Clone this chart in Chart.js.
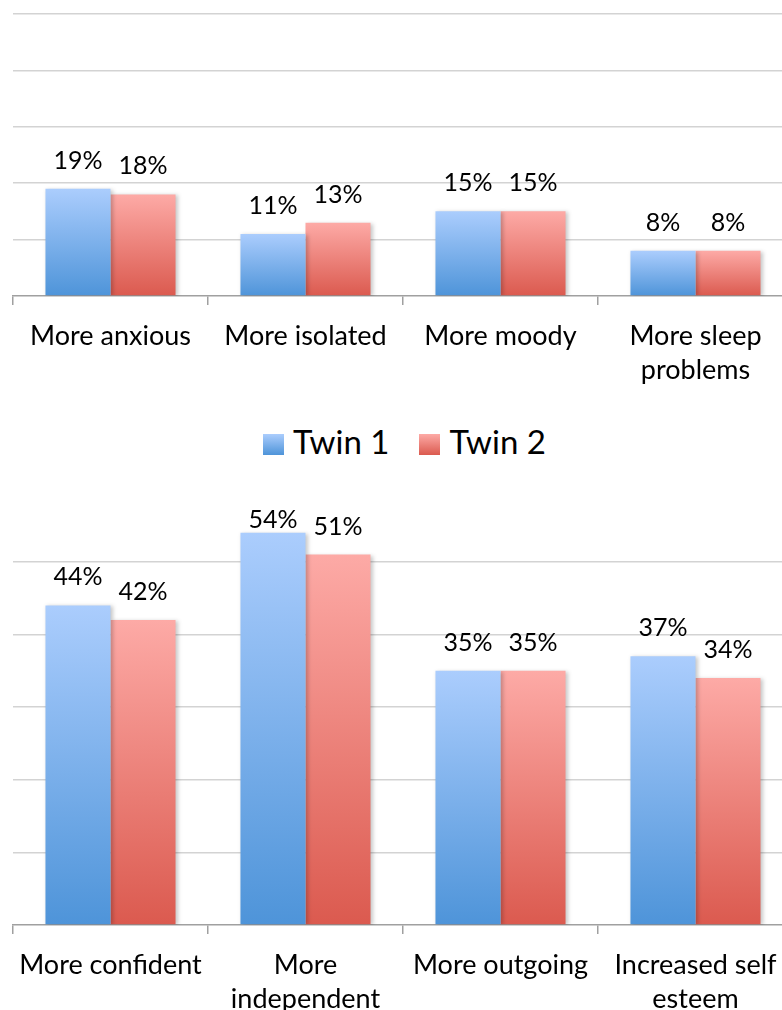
<!DOCTYPE html>
<html>
<head>
<meta charset="utf-8">
<script src="https://cdn.jsdelivr.net/npm/chart.js@4.4.1/dist/chart.umd.min.js"></script>
<style>
  html, body { margin: 0; padding: 0; background: #fff; overflow: hidden; }
  body { width: 782px; height: 1010px; position: relative; font-family: Lato, "Liberation Sans", sans-serif; }
  .box { position: absolute; left: 0; width: 800px; }
  #top { top: 0; height: 401px; }
  #bottom { top: 490px; height: 540px; }
  #legend { position: absolute; top: 421px; left: 263px; font-size: 33px; color: #000; white-space: nowrap; }
  #legend span.sw { display: inline-block; width: 21px; height: 21px; vertical-align: -1px; margin-right: 9px; }
  #legend span.item { margin-right: 30px; }
</style>
</head>
<body>
<div class="box" id="top"><canvas id="c1"></canvas></div>
<div id="legend"></div>
<div class="box" id="bottom"><canvas id="c2"></canvas></div>
<script>
"use strict";

const seriesNames = ['Twin 1', 'Twin 2'];

const negLabels = ['More anxious', 'More isolated', 'More moody', ['More sleep', 'problems']];
const negTwin1 = [19, 11, 15, 8];
const negTwin2 = [18, 13, 15, 8];

const posLabels = ['More confident', ['More', 'independent'], 'More outgoing', ['Increased self', 'esteem']];
const posTwin1 = [44, 54, 35, 37];
const posTwin2 = [42, 51, 35, 34];

const blue = ['#abcdfd', '#4e94d9'];
const red = ['#fdaaa6', '#db5a4f'];
const FONT = 'Lato, "Liberation Sans", sans-serif';

function barGradient( colors ) {
  return ( ctx ) => {
    const chart = ctx.chart;
    const y = chart.scales && chart.scales.y;
    if ( !y || ctx.type !== 'data' ) return colors[1];
    const y0 = y.getPixelForValue( 0 );
    const y1 = y.getPixelForValue( ctx.raw );
    if ( !isFinite( y0 ) || !isFinite( y1 ) || y0 === y1 ) return colors[1];
    const g = chart.ctx.createLinearGradient( 0, y1, 0, y0 );
    g.addColorStop( 0, colors[0] );
    g.addColorStop( 1, colors[1] );
    return g;
  };
}

// value labels over each bar, pushed down when they would leave the plot
const valueLabels = {
  id: 'valueLabels',
  beforeDatasetDraw( chart ) {
    const c = chart.ctx;
    c.save();
    c.shadowColor = 'rgba(0,0,0,0.22)';
    c.shadowBlur = 4;
    c.shadowOffsetX = 2;
    c.shadowOffsetY = 1;
  },
  afterDatasetDraw( chart ) {
    chart.ctx.restore();
  },
  afterDatasetsDraw( chart ) {
    const c = chart.ctx;
    c.save();
    c.font = '25px ' + FONT;
    c.fillStyle = '#000';
    c.textAlign = 'center';
    c.textBaseline = 'alphabetic';
    chart.data.datasets.forEach( ( ds, i ) => {
      chart.getDatasetMeta( i ).data.forEach( ( bar, j ) => {
        const y = Math.max( bar.y - 20, chart.chartArea.top + 17 );
        c.fillText( ds.data[j] + '%', bar.x, y );
      } );
    } );
    c.restore();
  }
};

function config( labels, d1, d2, max, padTop ) {
  return {
    type: 'bar',
    data: {
      labels: labels,
      datasets: [
        { label: seriesNames[0], data: d1, backgroundColor: barGradient( blue ) },
        { label: seriesNames[1], data: d2, backgroundColor: barGradient( red ) },
      ],
    },
    options: {
      maintainAspectRatio: false,
      animation: false,
      layout: { padding: { top: padTop, left: 13, right: 7, bottom: 0 } },
      plugins: { legend: { display: false }, tooltip: { enabled: false } },
      datasets: { bar: { categoryPercentage: 0.667, barPercentage: 1 } },
      scales: {
        x: {
          grid: { drawOnChartArea: false, drawTicks: true, tickLength: 9, color: '#a0a0a0', lineWidth: 1.5, offset: true },
          border: { color: '#a0a0a0', width: 1.5 },
          ticks: { color: '#000', padding: 14, font: { family: FONT, size: 27, lineHeight: 1.26 }, maxRotation: 0, autoSkip: false },
        },
        y: {
          min: 0,
          max: max,
          ticks: { display: false, stepSize: 10 },
          border: { display: false },
          grid: {
            drawTicks: false,
            lineWidth: 1.5,
            color: ( ctx ) => ( ctx.tick && ctx.tick.value % 10 === 0 && ctx.tick.value > 0 ) ? '#d3d3d3' : 'rgba(0,0,0,0)',
          },
        },
      },
    },
    plugins: [ valueLabels ],
  };
}

new Chart( document.getElementById( 'c1' ), config( negLabels, negTwin1, negTwin2, 50, 14 ) );
new Chart( document.getElementById( 'c2' ), config( posLabels, posTwin1, posTwin2, 57, 21 ) );

const legend = document.getElementById( 'legend' );
[ blue, red ].forEach( ( col, i ) => {
  const item = document.createElement( 'span' );
  item.className = 'item';
  const sw = document.createElement( 'span' );
  sw.className = 'sw';
  sw.style.background = 'linear-gradient(' + col[0] + ',' + col[1] + ')';
  item.appendChild( sw );
  item.appendChild( document.createTextNode( seriesNames[i] ) );
  legend.appendChild( item );
} );
</script>
</body>
</html>
